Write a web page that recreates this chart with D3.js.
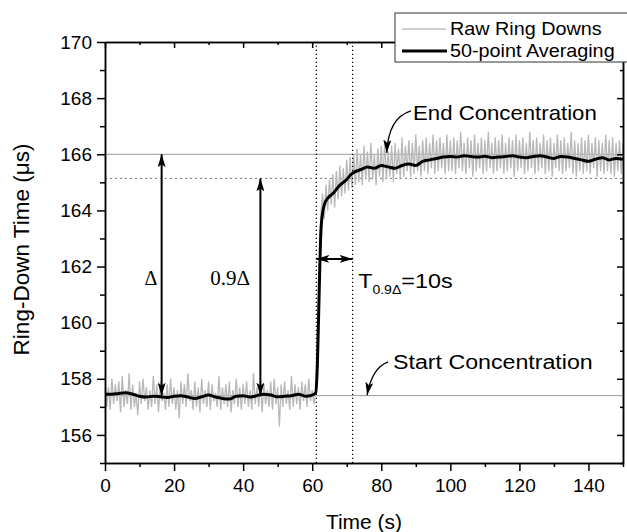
<!DOCTYPE html>
<html>
<head>
<meta charset="utf-8">
<script src="https://cdn.jsdelivr.net/npm/d3@7"></script>
<style>
body { margin: 0; background: #fff; }
svg text { font-family: "Liberation Sans", Arial, sans-serif; fill: #000; }
</style>
</head>
<body>
<script>
// raw ring-down samples, one every 0.5 s starting at t = 0
var rawStep = 0.5;
var rawValues = [
  157.9,157.0,157.7,156.9,158.0,157.1,157.8,157.2,157.9,156.8,
  158.1,157.0,157.6,157.1,158.2,156.9,157.8,157.0,157.5,156.7,
  157.9,157.1,158.0,157.2,157.7,156.9,157.6,157.0,158.1,157.1,
  157.8,156.8,157.9,157.2,157.5,156.9,157.8,157.0,158.0,157.1,
  157.7,156.9,157.6,156.6,157.9,157.1,157.8,157.0,158.2,157.2,
  157.6,156.9,157.9,157.0,157.7,156.8,158.0,157.1,157.6,157.0,
  157.9,156.9,157.8,157.2,157.5,157.0,158.1,156.9,157.7,157.1,
  157.8,157.0,157.9,156.8,157.6,157.1,158.0,157.0,157.7,156.9,
  157.8,157.1,157.9,157.0,157.6,156.9,158.2,157.1,157.7,157.0,
  157.9,156.8,157.8,157.1,157.6,157.0,157.9,156.9,158.0,157.1,
  157.7,156.3,157.8,157.0,157.9,157.1,157.6,156.9,158.1,157.0,
  157.8,157.1,157.7,156.9,157.9,157.2,157.8,157.0,158.0,157.2,
  157.6,157.1,157.5,
  159.0,161.5,163.8,164.6,163.7,164.9,164.0,165.1,164.2,165.3,
  164.1,165.4,164.4,165.6,164.5,165.5,164.6,165.8,164.7,165.9,
  164.8,166.0,
  164.9,166.2,165.0,166.0,164.9,166.3,165.1,166.1,165.0,166.4,
  165.1,166.0,164.9,166.2,165.2,166.3,165.0,166.5,165.1,166.1,
  165.2,166.3,165.0,166.4,165.3,166.2,165.1,166.6,165.2,166.3,
  165.4,166.5,165.2,166.4,165.3,166.7,165.4,166.3,165.2,166.5,
  165.4,166.6,165.3,166.4,165.5,166.7,165.3,166.5,165.4,166.6,
  165.5,166.4,165.3,166.7,165.4,166.5,
  165.4,166.6,165.3,166.5,165.5,166.8,165.4,166.4,165.3,166.6,
  165.5,166.5,165.2,166.7,165.4,166.4,165.5,166.6,165.3,166.5,
  165.4,166.8,165.5,166.4,165.3,166.6,165.4,166.5,165.5,166.7,
  165.3,166.4,165.4,166.6,165.5,166.5,165.2,166.7,165.4,166.5,
  165.5,166.6,165.3,166.4,165.4,166.8,165.5,166.5,165.3,166.6,
  165.4,166.4,165.5,166.7,165.3,166.5,165.4,166.6,165.2,166.4,
  165.5,166.7,165.4,166.5,165.3,166.6,165.4,166.4,165.5,166.8,
  165.3,166.5,165.2,166.4,165.4,166.6,165.3,166.5,165.4,166.7,
  165.3,166.4,165.5,166.6,165.2,166.5,165.4,166.4,165.3,166.7,
  165.4,166.5,165.3,166.6,165.2,166.4,165.4,166.5,165.3,166.4
];

// 50-point averaging curve
var avgTimes = [0,2,4,6,8,10,12,14,16,18,20,22,24,26,28,30,32,34,36,38,40,42,44,46,48,50,52,54,56,58,60,
  61,61.5,62,62.5,63,63.5,64,65,66,67,68,69,70,71,72,
  74,76,78,80,82,84,86,88,90,92,94,96,98,100,102,104,106,108,110,112,114,116,118,120,
  122,124,126,128,130,132,134,136,138,140,142,144,146,148,150];
var avgValues = [157.45,157.45,157.48,157.5,157.45,157.38,157.35,157.38,157.36,157.33,157.38,157.4,157.35,157.3,157.36,
  157.42,157.35,157.3,157.28,157.38,157.4,157.35,157.4,157.45,157.42,157.36,157.38,157.4,157.45,157.38,157.42,
  157.5,158.5,161.0,163.2,163.9,164.2,164.35,164.5,164.6,164.75,164.9,165.0,165.1,165.25,165.35,
  165.45,165.55,165.5,165.6,165.55,165.5,165.6,165.65,165.6,165.75,165.8,165.85,165.9,165.92,165.9,165.95,165.92,
  165.9,165.93,165.88,165.9,165.92,165.95,165.9,165.88,165.92,165.95,165.9,165.85,165.92,165.9,165.85,165.8,
  165.75,165.82,165.88,165.8,165.85,165.82];

// levels and annotation anchors (data units)
var endLevel = 166.0;
var startLevel = 157.4;
var ninetyLevel = 165.14;
var riseStart = 61.2;
var riseEnd = 71.7;
var deltaX = 16.4;
var ninetyX = 45.0;
var tArrowY = 162.27;

var xTicks = [0, 20, 40, 60, 80, 100, 120, 140];
var xMinor = [10, 30, 50, 70, 90, 110, 130, 150];
var yTicks = [156, 158, 160, 162, 164, 166, 168, 170];
var yMinor = [155, 157, 159, 161, 163, 165, 167, 169];

var width = 627, height = 532;
var x = d3.scaleLinear().domain([0, 150]).range([105, 623]);
var y = d3.scaleLinear().domain([155, 170]).range([463, 42]);

var svg = d3.select("body").append("svg")
    .attr("width", width)
    .attr("height", height);

var defs = svg.append("defs");
defs.append("clipPath").attr("id", "plot")
  .append("rect")
    .attr("x", x(0)).attr("y", y(170))
    .attr("width", x(150) - x(0)).attr("height", y(155) - y(170));
defs.append("marker")
    .attr("id", "head")
    .attr("viewBox", "0 0 13 8")
    .attr("refX", 13).attr("refY", 4)
    .attr("markerWidth", 13).attr("markerHeight", 8)
    .attr("markerUnits", "userSpaceOnUse")
    .attr("orient", "auto-start-reverse")
  .append("path")
    .attr("d", "M0,0 L13,4 L0,8 L3,4 z")
    .attr("fill", "#000");

// text drawn a little wider than the font, like the original export
function addText(parent, px, py, str, size, sx, anchor) {
  return parent.append("text")
      .attr("transform", "translate(" + px + "," + py + ") scale(" + sx + ",1)")
      .attr("text-anchor", anchor || "start")
      .attr("font-size", size)
      .text(str);
}

var plot = svg.append("g").attr("clip-path", "url(#plot)");

// reference levels
plot.append("line")
    .attr("x1", x(0)).attr("x2", x(150))
    .attr("y1", y(endLevel)).attr("y2", y(endLevel))
    .attr("stroke", "#9a9a9a").attr("stroke-width", 1);
plot.append("line")
    .attr("x1", x(0)).attr("x2", x(150))
    .attr("y1", y(startLevel)).attr("y2", y(startLevel))
    .attr("stroke", "#9a9a9a").attr("stroke-width", 1);
plot.append("line")
    .attr("x1", x(0)).attr("x2", x(150))
    .attr("y1", y(ninetyLevel)).attr("y2", y(ninetyLevel))
    .attr("stroke", "#777").attr("stroke-width", 1)
    .attr("stroke-dasharray", "2,3");

// raw data
var rawLine = d3.line()
    .x(function(d, i) { return x(i * rawStep); })
    .y(function(d) { return y(d); });
plot.append("path")
    .datum(rawValues)
    .attr("d", rawLine)
    .attr("fill", "none")
    .attr("stroke", "#b8b8b8")
    .attr("stroke-width", 1.3);

// averaged curve
var avgLine = d3.line()
    .x(function(d, i) { return x(avgTimes[i]); })
    .y(function(d) { return y(d); })
    .curve(d3.curveMonotoneX);
plot.append("path")
    .datum(avgValues)
    .attr("d", avgLine)
    .attr("fill", "none")
    .attr("stroke", "#000")
    .attr("stroke-width", 3)
    .attr("stroke-linejoin", "round");

// vertical dotted markers
[riseStart, riseEnd].forEach(function(t) {
  svg.append("line")
      .attr("x1", x(t)).attr("x2", x(t))
      .attr("y1", y(155)).attr("y2", y(170))
      .attr("stroke", "#000").attr("stroke-width", 1.2)
      .attr("stroke-dasharray", "1.2,2.8");
});

// axes
function styleAxis(g) {
  g.select(".domain").attr("stroke", "#000").attr("stroke-width", 1.5);
  g.selectAll(".tick line").attr("stroke", "#000").attr("stroke-width", 1.5);
  g.selectAll("text").attr("font-size", 19).attr("font-family", "Liberation Sans, Arial, sans-serif");
}
var gx = svg.append("g").attr("transform", "translate(0," + y(155) + ")")
    .call(d3.axisBottom(x).tickValues(xTicks).tickSize(8).tickSizeOuter(0).tickPadding(8));
styleAxis(gx);
svg.append("g").attr("transform", "translate(0," + y(155) + ")")
    .call(d3.axisBottom(x).tickValues(xMinor).tickSize(4).tickSizeOuter(0).tickFormat(""))
    .call(styleAxis);
var gy = svg.append("g").attr("transform", "translate(" + x(0) + ",0)")
    .call(d3.axisLeft(y).tickValues(yTicks).tickSize(8).tickSizeOuter(0).tickPadding(5));
styleAxis(gy);
svg.append("g").attr("transform", "translate(" + x(0) + ",0)")
    .call(d3.axisLeft(y).tickValues(yMinor).tickSize(5).tickSizeOuter(0).tickFormat(""))
    .call(styleAxis);
// mirrored inward ticks
svg.append("g").attr("transform", "translate(0," + y(170) + ")")
    .call(d3.axisTop(x).tickValues(xTicks).tickSize(-6).tickSizeOuter(0).tickFormat(""))
    .call(styleAxis);
svg.append("g").attr("transform", "translate(0," + y(170) + ")")
    .call(d3.axisTop(x).tickValues(xMinor).tickSize(-3).tickSizeOuter(0).tickFormat(""))
    .call(styleAxis);
svg.append("g").attr("transform", "translate(" + x(150) + ",0)")
    .call(d3.axisRight(y).tickValues(yTicks).tickSize(-6).tickSizeOuter(0).tickFormat(""))
    .call(styleAxis);
svg.append("g").attr("transform", "translate(" + x(150) + ",0)")
    .call(d3.axisRight(y).tickValues(yMinor).tickSize(-3).tickSizeOuter(0).tickFormat(""))
    .call(styleAxis);

// axis titles
addText(svg, (x(0) + x(150)) / 2, 529, "Time (s)", 20, 1.05, "middle");
svg.append("text")
    .attr("transform", "translate(29," + ((y(155) + y(170)) / 2 - 3) + ") rotate(-90)")
    .attr("text-anchor", "middle").attr("font-size", 22.5)
    .text("Ring-Down Time (\u03bcs)");

// delta arrows
[[deltaX, endLevel], [ninetyX, ninetyLevel]].forEach(function(a) {
  svg.append("line")
      .attr("x1", x(a[0])).attr("x2", x(a[0]))
      .attr("y1", y(startLevel)).attr("y2", y(a[1]))
      .attr("stroke", "#000").attr("stroke-width", 2)
      .attr("marker-start", "url(#head)").attr("marker-end", "url(#head)");
});
addText(svg, x(15.2), y(161.34), "\u0394", 20, 1, "end")
    .style("font-family", "Liberation Serif, Times New Roman, serif");
addText(svg, x(42.0), y(161.34), "0.9\u0394", 20, 1.05, "end")
    .style("font-family", "Liberation Serif, Times New Roman, serif");

// response time arrow
svg.append("line")
    .attr("x1", x(riseStart)).attr("x2", x(riseEnd))
    .attr("y1", y(tArrowY)).attr("y2", y(tArrowY))
    .attr("stroke", "#000").attr("stroke-width", 2)
    .attr("marker-start", "url(#head)").attr("marker-end", "url(#head)");
var tLabel = addText(svg, x(73.3), y(161.23), "", 20, 1.17);
tLabel.append("tspan").text("T");
tLabel.append("tspan").attr("font-size", 12).attr("dy", 6).text("0.9\u0394");
tLabel.append("tspan").attr("dy", -6).text("=10s");

// level labels with curved arrows
addText(svg, x(89.2), y(167.22), "End Concentration", 20, 1.11);
svg.append("path")
    .attr("d", "M" + x(88.6) + "," + y(167.55) + " Q" + x(82) + "," + y(167.3) + " " + x(81.6) + "," + y(166.05))
    .attr("fill", "none").attr("stroke", "#000").attr("stroke-width", 1.3)
    .attr("marker-end", "url(#head)");
addText(svg, x(83.4), y(158.35), "Start Concentration", 20, 1.16);
svg.append("path")
    .attr("d", "M" + x(81.95) + "," + y(158.6) + " Q" + x(77.3) + "," + y(158.38) + " " + x(75.9) + "," + y(157.42))
    .attr("fill", "none").attr("stroke", "#000").attr("stroke-width", 1.3)
    .attr("marker-end", "url(#head)");

// legend
var legend = svg.append("g").attr("transform", "translate(395,13)");
legend.append("rect")
    .attr("width", 250).attr("height", 49)
    .attr("fill", "#fff").attr("stroke", "#333").attr("stroke-width", 1);
legend.append("line")
    .attr("x1", 7).attr("x2", 51).attr("y1", 16).attr("y2", 16)
    .attr("stroke", "#bdbdbd").attr("stroke-width", 1.5);
legend.append("line")
    .attr("x1", 7).attr("x2", 52).attr("y1", 38).attr("y2", 38)
    .attr("stroke", "#000").attr("stroke-width", 3);
addText(legend, 55, 22, "Raw Ring Downs", 18, 1.1);
addText(legend, 55, 44, "50-point Averaging", 18, 1.1);
</script>
</body>
</html>
